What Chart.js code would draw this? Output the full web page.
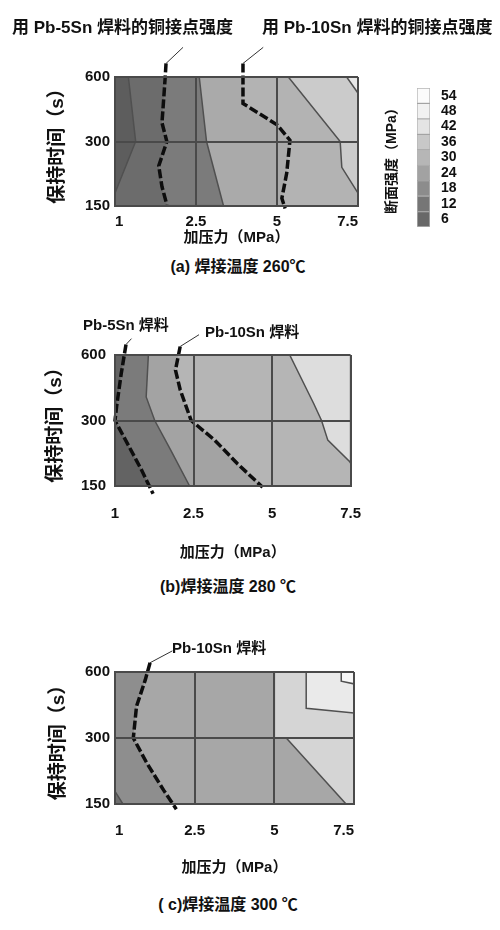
<!DOCTYPE html>
<html lang="zh-CN">
<head>
<meta charset="utf-8">
<title>焊接温度、加压力与保持时间对铜接点断面强度的影响</title>
<script src="https://cdn.jsdelivr.net/npm/chart.js@4.4.1/dist/chart.umd.min.js"></script>
<style>
  html, body { margin: 0; padding: 0; background: #fff; }
  #page { position: relative; width: 500px; height: 930px; overflow: hidden;
          font-family: "Liberation Sans", "Noto Sans CJK SC", sans-serif; color: #111; }
  canvas { position: absolute; }
  .note { position: absolute; white-space: nowrap; font-weight: bold; line-height: 1; transform: translateY(-50%); }
  .caption { position: absolute; white-space: nowrap; font-weight: bold; font-size: 16px; line-height: 1; transform: translate(-50%, -50%); }
</style>
</head>
<body>
<div id="page">
  <canvas id="c260" width="380" height="250" style="left:0px;top:0px"></canvas>
  <canvas id="key" width="100" height="160" style="left:380px;top:80px"></canvas>
  <canvas id="c280" width="380" height="270" style="left:0px;top:300px"></canvas>
  <canvas id="c300" width="380" height="260" style="left:0px;top:620px"></canvas>

  <div class="note" style="left:12px;top:27px;font-size:17px">用 Pb-5Sn 焊料的铜接点强度</div>
  <div class="note" style="left:262px;top:27px;font-size:17px">用 Pb-10Sn 焊料的铜接点强度</div>
  <div class="caption" style="left:238px;top:267px">(a) 焊接温度 260℃</div>

  <div class="note" style="left:83px;top:324px;font-size:15px">Pb-5Sn 焊料</div>
  <div class="note" style="left:205px;top:331px;font-size:15px">Pb-10Sn 焊料</div>
  <div class="caption" style="left:228px;top:587px">(b)焊接温度 280 ℃</div>

  <div class="note" style="left:172px;top:647px;font-size:15px">Pb-10Sn 焊料</div>
  <div class="caption" style="left:228px;top:905px">( c)焊接温度 300 ℃</div>
</div>

<script>
// Axis categories: 加压力 (MPa) and 保持时间 (s). Marks are placed in tick-index units.
const pressureLabels = ['1', '2.5', '5', '7.5'];
const holdTimeLabels = ['150', '300', '600'];

// 断面强度 (MPa) colour key, listed top to bottom
const strengthLevels = [54, 48, 42, 36, 30, 24, 18, 12, 6];

// Whole plotting plate, [pressure index, hold-time index]
const plate = [[0, 0], [3, 0], [3, 2], [0, 2]];

// 260 ℃ — band outlines and solder strength lines
const t260Low = [[0.165, 2], [0.255, 1.0], [0, 0.2], [0, 2]];
const t260Pb5Sn = [[0.63, 2.21], [0.62, 2.0], [0.60, 1.64], [0.58, 1.29], [0.64, 1.0], [0.54, 0.62], [0.58, 0.30], [0.64, 0.02]];
const t260Mid = [[1.04, 2], [1.13, 1.0], [1.34, 0], [3, 0], [3, 2]];
const t260Pb10Sn = [[1.58, 2.21], [1.58, 1.59], [2.0, 1.26], [2.16, 1.02], [2.12, 0.51], [2.06, 0.12], [2.10, -0.04]];
const t260High = [[2.14, 2], [2.78, 1.0], [2.80, 0.6], [3, 0.2], [3, 2]];
const t260Top = [[2.86, 2], [3, 1.75], [3, 2]];
const t260Lead5 = [[0.63, 2.21], [0.84, 2.46]];
const t260Lead10 = [[1.58, 2.21], [1.83, 2.46]];

// 280 ℃
const t280Pb5Sn = [[0.14, 2.16], [0.08, 1.72], [0.02, 1.21], [0, 1.0], [0.18, 0.6], [0.34, 0.24], [0.485, -0.12]];
const t280Mid = [[0.425, 2], [0.397, 1.36], [0.506, 1.0], [0.708, 0.55], [0.95, 0], [3, 0], [3, 2]];
const t280Pb10Sn = [[0.83, 2.13], [0.77, 1.77], [0.83, 1.47], [0.97, 1.0], [1.27, 0.70], [1.56, 0.34], [1.88, -0.02]];
const t280High = [[2.225, 2], [2.53, 1.26], [2.63, 1.0], [2.71, 0.70], [2.99, 0.37], [3, 0.35], [3, 2]];
const t280Lead5 = [[0.14, 2.16], [0.21, 2.25]];
const t280Lead10 = [[0.83, 2.13], [1.07, 2.31]];

// 300 ℃
const t300Pb10Sn = [[0.44, 2.14], [0.38, 1.88], [0.27, 1.48], [0.23, 1.0], [0.40, 0.62], [0.61, 0.21], [0.77, -0.08]];
const t300Corner = [[0, 0.19], [0.10, 0], [0, 0]];
const t300Light = [[2.0, 2], [2.0, 1.0], [2.15, 1.0], [2.9, 0], [3, 0], [3, 2]];
const t300Box = [[2.40, 2], [2.40, 1.45], [3, 1.38], [3, 2]];
const t300Peak = [[2.84, 2], [2.84, 1.86], [3, 1.82], [3, 2]];
const t300Lead10 = [[0.44, 2.14], [0.72, 2.32]];

// ---------- drawing ----------
const FAMILY = '"Liberation Sans", "Noto Sans CJK SC", sans-serif';
const INK = '#111';
const FRAME = '#4a4a4a';
const EDGE = '#505050';
const keyShades = ['#fbfbfb', '#f1f1f1', '#e4e4e4', '#c8c8c8', '#b6b6b6', '#a2a2a2', '#8c8c8c', '#767676', '#686868'];

const xy = pts => pts.map(([x, y]) => ({ x, y }));
// area to the right / left of a line running top to bottom
const rightOf = line => [...line, [3, line[line.length - 1][1]], [3, line[0][1]]];
const leftOf = line => [...line, [0, line[line.length - 1][1]], [0, line[0][1]]];

function contourChart(id, p) {
  const datasets = [];
  p.bands.forEach(([pts, color, edged], i) => {
    datasets.push({
      data: xy(pts), fill: 'shape', backgroundColor: color,
      borderColor: edged ? EDGE : 'rgba(0,0,0,0)', borderWidth: edged ? 1.5 : 0,
      pointRadius: 0, tension: 0, order: 100 - i
    });
  });
  p.solder.forEach(line => datasets.push({
    data: xy(line), fill: false, borderColor: '#0d0d0d', borderWidth: 3.5,
    borderDash: [9, 3], borderCapStyle: 'butt', pointRadius: 0, clip: false, order: 2
  }));
  p.leaders.forEach(line => datasets.push({
    data: xy(line), fill: false, borderColor: '#333', borderWidth: 1,
    pointRadius: 0, clip: false, order: 1
  }));

  const tickFont = { family: FAMILY, size: 15, weight: 'bold' };
  new Chart(document.getElementById(id), {
    type: 'line',
    data: { datasets },
    options: {
      responsive: false, animation: false, devicePixelRatio: 1, events: [],
      layout: { padding: { top: p.padTop, right: p.padRight, left: 0, bottom: 0 } },
      plugins: { legend: { display: false }, tooltip: { enabled: false } },
      scales: {
        x: {
          type: 'linear', min: 0, max: pressureLabels.length - 1,
          afterBuildTicks: s => { s.ticks = pressureLabels.map((_, i) => ({ value: i })); },
          afterFit: s => { s.height = p.xHeight; },
          ticks: { callback: (v, i) => pressureLabels[i], align: p.xAlign, padding: p.xTickPad,
                   font: tickFont, color: INK, maxRotation: 0, autoSkip: false },
          grid: { color: FRAME, lineWidth: 2, drawTicks: false, z: 1 },
          border: { color: FRAME, width: 2, z: 1 },
          title: { display: true, text: '加压力（MPa）', color: INK,
                   font: { family: FAMILY, size: 15, weight: 'bold' },
                   padding: { top: 0, bottom: p.xTitlePad } }
        },
        y: {
          type: 'linear', min: 0, max: holdTimeLabels.length - 1,
          afterBuildTicks: s => { s.ticks = holdTimeLabels.map((_, i) => ({ value: i })); },
          afterFit: s => { s.width = 115; },
          ticks: { callback: (v, i) => holdTimeLabels[i], padding: p.yTickPad,
                   font: tickFont, color: INK, autoSkip: false },
          grid: { color: FRAME, lineWidth: 2, drawTicks: false, z: 1 },
          border: { color: FRAME, width: 2, z: 1 },
          title: { display: true, text: '保持时间（s）', color: INK,
                   font: { family: FAMILY, size: 19, weight: 'bold' },
                   padding: { top: p.yTitlePad, bottom: 0 } }
        }
      }
    }
  });
}

contourChart('c260', {
  padTop: 77, padRight: 22, xHeight: 44, xTickPad: 7, xAlign: 'inner', xTitlePad: 3,
  yTickPad: 5, yTitlePad: 46.6,
  bands: [
    [plate, '#6c6c6c', false],
    [t260Low, '#5d5d5d', true],
    [rightOf(t260Pb5Sn), '#7b7b7b', false],
    [t260Mid, '#aaaaaa', true],
    [rightOf(t260Pb10Sn), '#b3b3b3', false],
    [t260High, '#cbcbcb', true],
    [t260Top, '#e7e7e7', true]
  ],
  solder: [t260Pb5Sn, t260Pb10Sn],
  leaders: [t260Lead5, t260Lead10]
});

contourChart('c280', {
  padTop: 55, padRight: 18, xHeight: 84, xTickPad: 19, xAlign: 'center', xTitlePad: 8,
  yTickPad: 9, yTitlePad: 44.6,
  bands: [
    [plate, '#7b7b7b', false],
    [leftOf(t280Pb5Sn), '#636363', false],
    [t280Mid, '#a3a3a3', true],
    [rightOf(t280Pb10Sn), '#b5b5b5', false],
    [t280High, '#dddddd', true]
  ],
  solder: [t280Pb5Sn, t280Pb10Sn],
  leaders: [t280Lead5, t280Lead10]
});

contourChart('c300', {
  padTop: 52, padRight: 26, xHeight: 76, xTickPad: 18, xAlign: 'inner', xTitlePad: 3,
  yTickPad: 5, yTitlePad: 47.6,
  bands: [
    [plate, '#a7a7a7', false],
    [leftOf(t300Pb10Sn), '#8e8e8e', false],
    [t300Corner, '#6e6e6e', true],
    [t300Light, '#d5d5d5', true],
    [t300Box, '#eaeaea', true],
    [t300Peak, '#f7f7f7', true]
  ],
  solder: [t300Pb10Sn],
  leaders: [t300Lead10]
});

// 断面强度 colour key: one floating bar per strength band
new Chart(document.getElementById('key'), {
  type: 'bar',
  data: {
    labels: [''],
    datasets: strengthLevels.map((v, i) => ({
      data: [[v - 3, v + 3]], backgroundColor: keyShades[i],
      borderColor: 'rgba(130,130,130,0.6)', borderWidth: 1, borderSkipped: false,
      grouped: false, barPercentage: 1, categoryPercentage: 1
    }))
  },
  options: {
    responsive: false, animation: false, devicePixelRatio: 1, events: [],
    layout: { padding: { top: 8, bottom: 13, left: 0, right: 0 } },
    plugins: { legend: { display: false }, tooltip: { enabled: false } },
    scales: {
      x: { display: false },
      y: {
        type: 'linear', position: 'right', min: 3, max: 57,
        afterBuildTicks: s => { s.ticks = strengthLevels.map(v => ({ value: v })); },
        afterFit: s => { s.width = 50; s.paddingTop = 0; s.paddingBottom = 0; },
        ticks: { padding: 11, color: INK, autoSkip: false,
                 font: { family: FAMILY, size: 14, weight: 'bold' } },
        grid: { display: false, drawTicks: false },
        border: { display: false }
      },
      keyTitle: {
        type: 'linear', position: 'left', display: true,
        afterFit: s => { s.width = 37; s.paddingTop = 0; s.paddingBottom = 0; },
        ticks: { display: false },
        grid: { display: false, drawTicks: false },
        border: { display: false },
        title: { display: true, text: '断面强度（MPa）', color: INK,
                 font: { family: FAMILY, size: 14, weight: 'bold' },
                 padding: { top: 3.6, bottom: 0 } }
      }
    }
  }
});
</script>
</body>
</html>
